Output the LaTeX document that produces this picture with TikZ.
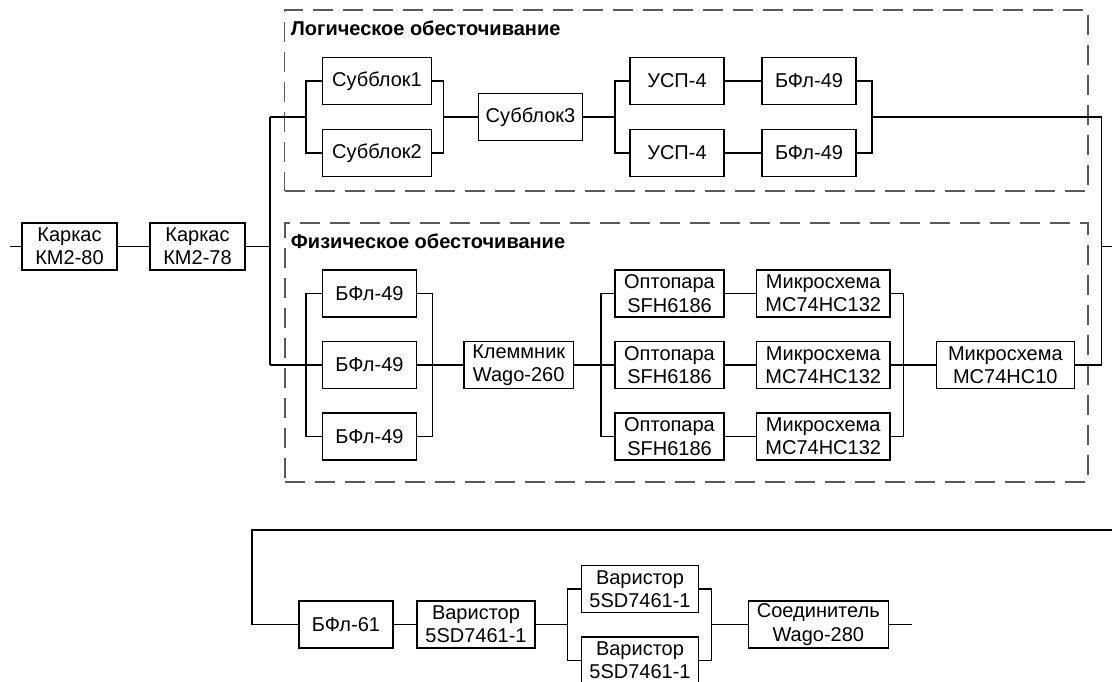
\documentclass[tikz,border=0pt]{standalone}
\usepackage{fontspec}
\setmainfont{Liberation Sans}
\usetikzlibrary{fit}
\tikzstyle{blok} = [rectangle, draw=black, line width=0.6pt, minimum height=23.5pt, inner sep=0pt, align=center, font=\fontsize{10}{11.7}\selectfont]
\tikzstyle{ramka} = [rectangle, draw=black!65, line width=0.7pt, dash pattern=on 10pt off 5pt, inner sep=0pt]
\tikzstyle{zagol} = [anchor=west, inner sep=0pt, font=\fontsize{10}{11.7}\selectfont\bfseries]
\tikzstyle{linija} = [line width=0.6pt]

\begin{document}
\begin{tikzpicture}[x=0.5pt,y=-0.5pt]
\useasboundingbox (0,0) rectangle (1112,681);

% dashed frames
\node (logika) [ramka, fit={(284.5,10)(1088,191)}] {};
\node (fizika) [ramka, fit={(285,223)(1088,482)}] {};
\node (zlog) [zagol] at (290.5,28) {Логическое обесточивание};
\node (zfiz) [zagol] at (290.5,241) {Физическое обесточивание};

% common part
\node (kark80) [blok, minimum width=47.5pt] at (69.5,246.5) {Каркас\\КМ2-80};
\node (kark78) [blok, minimum width=47.5pt] at (197.5,246.5) {Каркас\\КМ2-78};

% logic part
\node (sub1) [blok, minimum width=54.7pt] at (377,81) {Субблок1};
\node (sub2) [blok, minimum width=54.7pt] at (377,153) {Субблок2};
\node (sub3) [blok, minimum width=52.2pt] at (530.5,117) {Субблок3};
\node (usp1) [blok, minimum width=47pt] at (677,81) {УСП-4};
\node (usp2) [blok, minimum width=47pt] at (677,153) {УСП-4};
\node (bfl1) [blok, minimum width=47pt] at (809,81) {БФл-49};
\node (bfl2) [blok, minimum width=47pt] at (809,153) {БФл-49};

% physical part
\node (bfa) [blok, minimum width=47.2pt] at (369.5,293.5) {БФл-49};
\node (bfb) [blok, minimum width=47.2pt] at (369.5,365) {БФл-49};
\node (bfc) [blok, minimum width=47.2pt] at (369.5,436.5) {БФл-49};
\node (klem) [blok, minimum width=54.7pt] at (518.7,365) {Клеммник\\Wago-260};
\node (opt1) [blok, minimum width=54.5pt] at (669.5,293.5) {Оптопара\\SFH6186};
\node (opt2) [blok, minimum width=54.5pt] at (669.5,365) {Оптопара\\SFH6186};
\node (opt3) [blok, minimum width=54.5pt] at (669.5,436.5) {Оптопара\\SFH6186};
\node (mik1) [blok, minimum width=66.8pt] at (823.2,293.5) {Микросхема\\MC74HC132};
\node (mik2) [blok, minimum width=66.8pt] at (823.2,365) {Микросхема\\MC74HC132};
\node (mik3) [blok, minimum width=66.8pt] at (823.2,436.5) {Микросхема\\MC74HC132};
\node (mik10) [blok, minimum width=69pt] at (1005.3,365) {Микросхема\\MC74HC10};

% second line
\node (bfl61) [blok, minimum width=47pt] at (346,624.5) {БФл-61};
\node (var1) [blok, minimum width=59pt] at (476,624.5) {Варистор\\5SD7461-1};
\node (var2) [blok, minimum width=58.3pt] at (640,589) {Варистор\\5SD7461-1};
\node (var3) [blok, minimum width=58.3pt] at (640,660.5) {Варистор\\5SD7461-1};
\node (soed) [blok, minimum width=70pt] at (818.3,624.5) {Соединитель\\Wago-280};

% junction points
\coordinate (vhod) at (10,246.5);
\coordinate (busL) at (270,246.5);
\coordinate (busLt) at (270,117);
\coordinate (busLb) at (270,365);
\coordinate (busR) at (1101.7,246.5);
\coordinate (busRt) at (1101.7,117);
\coordinate (busRb) at (1101.7,365);
\coordinate (vyhod) at (1112,246.5);
\coordinate (lb1) at (306,117);
\coordinate (lm1) at (443.3,117);
\coordinate (lb2) at (615,117);
\coordinate (lm2) at (872,117);
\coordinate (pb1) at (306,365);
\coordinate (pm1) at (432.7,365);
\coordinate (pb2) at (601,365);
\coordinate (pm2) at (903.4,365);
\coordinate (perR) at (1112,530);
\coordinate (perL) at (252,530);
\coordinate (perD) at (252,624.5);
\coordinate (vb) at (567.3,624.5);
\coordinate (vm) at (711.7,624.5);
\coordinate (vyhod2) at (912,624.5);

% connections
\draw [linija] (vhod) -- (kark80) -- (kark78) -- (busL);
\draw [linija] (busLt) -- (busLb);
\draw [linija] (busRt) -- (busRb);
\draw [linija] (busR) -- (vyhod);

\draw [linija] (busLt) -- (lb1);
\draw [linija] (lb1) |- (sub1.west);
\draw [linija] (lb1) |- (sub2.west);
\draw [linija] (sub1.east) -| (lm1);
\draw [linija] (sub2.east) -| (lm1);
\draw [linija] (lm1) -- (sub3) -- (lb2);
\draw [linija] (lb2) |- (usp1.west);
\draw [linija] (lb2) |- (usp2.west);
\draw [linija] (usp1) -- (bfl1);
\draw [linija] (usp2) -- (bfl2);
\draw [linija] (bfl1.east) -| (lm2);
\draw [linija] (bfl2.east) -| (lm2);
\draw [linija] (lm2) -- (busRt);

\draw [linija] (busLb) -- (pb1) -- (bfb);
\draw [linija] (pb1) |- (bfa.west);
\draw [linija] (pb1) |- (bfc.west);
\draw [linija] (bfa.east) -| (pm1);
\draw [linija] (bfc.east) -| (pm1);
\draw [linija] (bfb) -- (pm1) -- (klem) -- (pb2) -- (opt2);
\draw [linija] (pb2) |- (opt1.west);
\draw [linija] (pb2) |- (opt3.west);
\draw [linija] (opt1) -- (mik1);
\draw [linija] (opt2) -- (mik2);
\draw [linija] (opt3) -- (mik3);
\draw [linija] (mik1.east) -| (pm2);
\draw [linija] (mik3.east) -| (pm2);
\draw [linija] (mik2) -- (pm2) -- (mik10) -- (busRb);

\draw [linija] (perR) -- (perL) -- (perD) -- (bfl61);
\draw [linija] (bfl61) -- (var1) -- (vb);
\draw [linija] (vb) |- (var2.west);
\draw [linija] (vb) |- (var3.west);
\draw [linija] (var2.east) -| (vm);
\draw [linija] (var3.east) -| (vm);
\draw [linija] (vm) -- (soed) -- (vyhod2);

\end{tikzpicture}
\end{document}
